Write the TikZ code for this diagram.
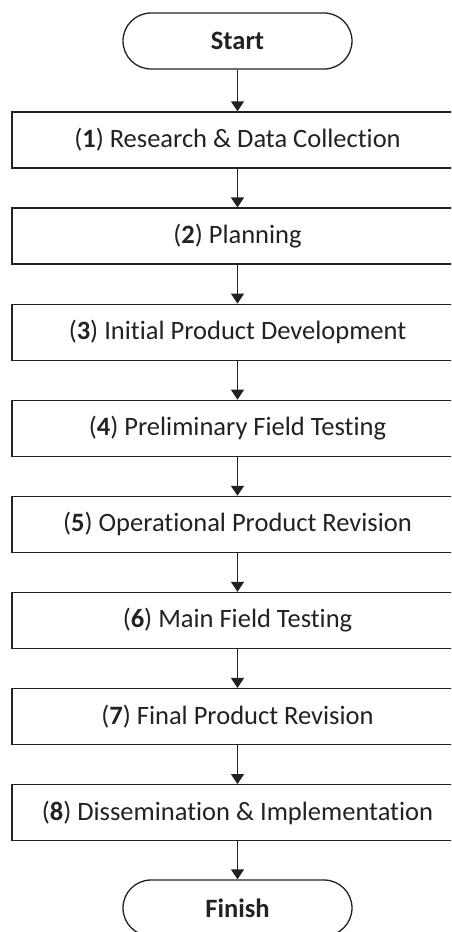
\documentclass[tikz,border=0pt]{standalone}
\usepackage{fontspec}
\setmainfont{Carlito}[Ligatures=NoCommon]
\usetikzlibrary{arrows.meta,positioning}
\definecolor{ink}{HTML}{222222}
\tikzset{
  stepbox/.style={draw=ink,line width=1.3pt,fill=white,minimum width=451pt,minimum height=56pt,
    inner sep=0pt,font=\fontsize{26.5}{30}\selectfont,text=ink},
  termbox/.style={stepbox,rounded corners=28pt,minimum width=229pt,
    font=\fontsize{26.5}{30}\selectfont\bfseries},
  arr/.style={-{Triangle[length=10pt,width=13pt]},line width=1.4pt,draw=ink},
}

\begin{document}
\begin{tikzpicture}[x=1pt,y=-1pt]
  \fill[white] (0,0) rectangle (451,932);
  \useasboundingbox (0,0) rectangle (451,932);
  \clip (0,0) rectangle (451,932);
  % terminals
  \node[termbox] (start) at (237.5,41) {Start};
  \node[termbox] (finish) at (237.5,908) {Finish};
  % steps
  \foreach \i/\txt in {1/{Research \& Data Collection},2/{Planning},3/{Initial Product Development},
      4/{Preliminary Field Testing},5/{Operational Product Revision},6/{Main Field Testing},
      7/{Final Product Revision},8/{Dissemination \& Implementation}}{
    \node[stepbox] (s\i) at (237.5,{140+96.1*(\i-1)}) {(\textbf{\i}) \txt};
  }
  % arrows
  \draw[arr] (start) -- (s1);
  \foreach \i in {1,...,7}{
    \pgfmathtruncatemacro\nxt{\i+1}
    \draw[arr] (s\i) -- (s\nxt);
  }
  \draw[arr] (s8) -- (finish);
\end{tikzpicture}
\end{document}
